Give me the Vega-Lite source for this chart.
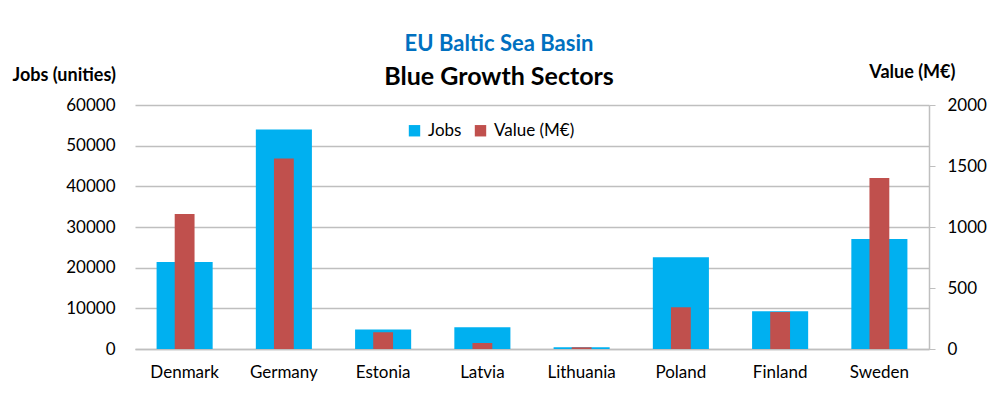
{
  "$schema": "https://vega.github.io/schema/vega-lite/v6.json",
  "width": 794,
  "height": 244,
  "autosize": "none",
  "padding": {"left": 135, "top": 105, "right": 62, "bottom": 65},
  "background": "white",
  "config": {
    "font": "Lato",
    "view": {"stroke": null},
    "axis": {"labelFont": "Lato", "titleFont": "Lato", "labelColor": "#000000", "titleColor": "#000000"}
  },
  "title": {
    "text": "EU Baltic Sea Basin",
    "subtitle": "Blue Growth Sectors",
    "anchor": "middle",
    "dx": -33,
    "offset": -28,
    "font": "Lato",
    "fontSize": 22,
    "fontWeight": "bold",
    "color": "#0070C0",
    "subtitleFont": "Lato",
    "subtitleFontSize": 25,
    "subtitleFontWeight": "bold",
    "subtitleColor": "#000000",
    "subtitlePadding": 9
  },
  "data": {
    "values": [
      {"country": "Denmark", "jobs": 21400, "value": 1107},
      {"country": "Germany", "jobs": 54000, "value": 1561},
      {"country": "Estonia", "jobs": 4770, "value": 137},
      {"country": "Latvia", "jobs": 5340, "value": 49},
      {"country": "Lithuania", "jobs": 420, "value": 14},
      {"country": "Poland", "jobs": 22550, "value": 342},
      {"country": "Finland", "jobs": 9270, "value": 303},
      {"country": "Sweden", "jobs": 27050, "value": 1402}
    ]
  },
  "encoding": {
    "x": {
      "field": "country",
      "type": "nominal",
      "sort": null,
      "scale": {"paddingInner": 0, "paddingOuter": 0},
      "axis": {
        "title": null,
        "labelAngle": 0,
        "labelFontSize": 17,
        "labelPadding": 15,
        "ticks": false,
        "domainColor": "#BFBFBF",
        "domainWidth": 1.5
      }
    }
  },
  "layer": [
    {
      "mark": {"type": "bar", "width": {"band": 0.565}},
      "encoding": {
        "y": {
          "field": "jobs",
          "type": "quantitative",
          "scale": {"domain": [0, 60000], "nice": false},
          "axis": {
            "title": "Jobs (unities)",
            "titleAngle": 0,
            "titleAlign": "left",
            "titleBaseline": "middle",
            "titleX": -123,
            "titleY": -30,
            "titleFontSize": 18,
            "titleFontWeight": "bold",
            "values": [0, 10000, 20000, 30000, 40000, 50000, 60000],
            "format": "d",
            "labelFontSize": 17,
            "labelPadding": 20,
            "ticks": false,
            "domain": false,
            "grid": true,
            "gridColor": "#BFBFBF",
            "gridWidth": 1.5
          }
        },
        "color": {
          "datum": "Jobs",
          "type": "nominal",
          "scale": {"domain": ["Jobs", "Value (M€)"], "range": ["#00B0F0", "#C0504D"]},
          "legend": {
            "title": null,
            "orient": "none",
            "direction": "horizontal",
            "legendX": 271,
            "legendY": 17,
            "symbolType": "square",
            "symbolSize": 130,
            "symbolStrokeWidth": 0,
            "labelFont": "Lato",
            "labelFontSize": 17,
            "labelColor": "#000000",
            "columnPadding": 10,
            "labelOffset": 5
          }
        }
      }
    },
    {
      "mark": {"type": "bar", "width": {"band": 0.2}},
      "encoding": {
        "y": {
          "field": "value",
          "type": "quantitative",
          "scale": {"domain": [0, 2000], "nice": false},
          "axis": {
            "orient": "right",
            "title": "Value (M€)",
            "titleAngle": 0,
            "titleAlign": "right",
            "titleBaseline": "middle",
            "titleX": 26,
            "titleY": -33,
            "titleFontSize": 18,
            "titleFontWeight": "bold",
            "values": [0, 500, 1000, 1500, 2000],
            "format": "d",
            "labelFontSize": 17,
            "labelPadding": 12,
            "ticks": true,
            "tickSize": 6,
            "tickColor": "#BFBFBF",
            "domain": true,
            "domainColor": "#BFBFBF",
            "domainWidth": 1.5,
            "grid": false
          }
        },
        "color": {"datum": "Value (M€)", "type": "nominal"}
      }
    }
  ],
  "resolve": {"scale": {"y": "independent"}}
}
